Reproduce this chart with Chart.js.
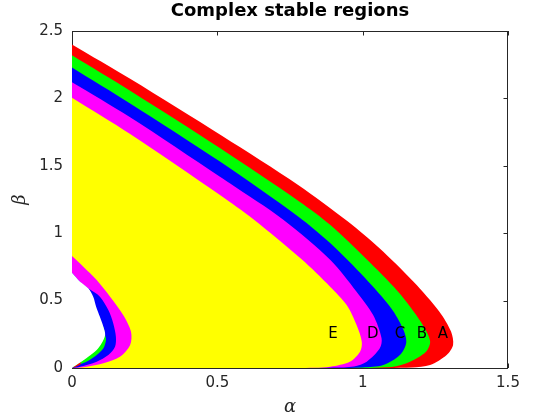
<!DOCTYPE html>
<html>
<head>
<meta charset="utf-8">
<script src="https://cdn.jsdelivr.net/npm/chart.js@4.4.1/dist/chart.umd.min.js"></script>
<style>
  html, body { margin: 0; padding: 0; background: #fff; }
  canvas { display: block; }
</style>
</head>
<body>
<canvas id="chart" width="560" height="420"></canvas>
<script>
// ─── data: region boundaries as [alpha, beta] points ───
const redOuter = [[0,2.40],[0.2,2.145],[0.517,1.721],[0.778,1.358],[0.947,1.09],[1.057,0.89],[1.175,0.64],
  [1.264,0.418],[1.304,0.27],[1.311,0.17],[1.289,0.096],[1.232,0.022],[1.17,0.004],[1.0,0],[0,0]];
const greenOuter = [[0,2.32],[0.2,2.057],[0.51,1.63],[0.783,1.234],[0.889,1.061],[1.01,0.814],[1.122,0.566],
  [1.2,0.343],[1.232,0.2],[1.218,0.121],[1.163,0.047],[1.10,0.008],[0.95,0],[0,0]];
const blueOuter = [[0,2.23],[0.2,1.963],[0.509,1.531],[0.779,1.122],[0.889,0.925],[1.009,0.665],[1.098,0.443],
  [1.138,0.294],[1.15,0.19],[1.128,0.096],[1.071,0.022],[1.0,0.004],[0.9,0],[0,0]];
const magentaOuter = [[0,2.12],[0.2,1.86],[0.509,1.419],[0.543,1.37],[0.727,1.1],[0.889,0.801],[0.979,0.566],
  [1.036,0.393],[1.065,0.22],[1.059,0.146],[1.014,0.047],[0.97,0.012],[0.9,0.003],[0.8,0],[0,0]];
const yellowOuter = [[0,2.005],[0.2,1.736],[0.509,1.283],[0.624,1.103],[0.79,0.806],[0.888,0.603],[0.945,0.467],
  [0.979,0.319],[0.997,0.195],[0.991,0.121],[0.956,0.047],[0.888,0.01],[0.836,0.002],[0.7,0],[0,0]];

// inner pocket near the origin
const innerMagenta = [[0,0.831],[0.039,0.752],[0.085,0.653],[0.131,0.529],[0.176,0.393],[0.203,0.269],
  [0.2,0.171],[0.165,0.084],[0.108,0.035],[0.039,0.005],[0,0]];
const innerBlue = [[0,0.707],[0.028,0.64],[0.056,0.591],[0.096,0.529],[0.125,0.43],[0.142,0.331],[0.151,0.232],
  [0.148,0.158],[0.125,0.096],[0.085,0.047],[0.028,0.01],[0,0]];
const innerGreen = [[0.108,0.306],[0.114,0.245],[0.117,0.208],[0.108,0.146],[0.085,0.096],[0.056,0.054],[0.022,0.022],[0,0]];
const innerRed = [[0.03,0.045],[0.03,0.03],[0.02,0.016],[0.008,0.005],[0,0]];
const innerWhite = [[0,0.707],[0.028,0.64],[0.056,0.591],[0.073,0.529],[0.083,0.455],[0.096,0.38],[0.108,0.306],
  [0.114,0.245],[0.102,0.183],[0.085,0.134],[0.056,0.084],[0.028,0.04],[0,0]];

const regionNames = ['A', 'B', 'C', 'D', 'E'];
const regionLabelX = [1.276, 1.204, 1.128, 1.035, 0.898];
const regionLabelY = 0.252;

const xTickValues = [0, 0.5, 1, 1.5];
const yTickValues = [0, 0.5, 1, 1.5, 2, 2.5];

const AXIS_COLOR = '#262626';

// ─── helpers ────────────────────────────────────────────────────────────────
function region(points, color, order) {
  return {
    data: points.map(([x, y]) => ({ x, y })),
    backgroundColor: color,
    borderColor: 'rgba(0,0,0,0)',
    borderWidth: 0,
    pointRadius: 0,
    tension: 0.3,
    fill: 'shape',
    order: order,
  };
}

// MATLAB-style box with inward ticks, drawn under the patches
const axesBox = {
  id: 'axesBox',
  beforeDatasetsDraw(chart) {
    const { ctx, chartArea: a, scales: { x, y } } = chart;
    const tl = 4.5;
    ctx.save();
    ctx.strokeStyle = AXIS_COLOR;
    ctx.lineWidth = 1;
    ctx.beginPath();
    ctx.moveTo(a.left + 0.5, a.top + 0.5);
    ctx.lineTo(a.right - 0.5, a.top + 0.5);
    ctx.lineTo(a.right - 0.5, a.bottom + 0.5);
    ctx.lineTo(a.left + 0.5, a.bottom + 0.5);
    ctx.closePath();
    x.ticks.forEach(t => {
      const px = Math.round(x.getPixelForValue(t.value)) + 0.5;
      ctx.moveTo(px, a.bottom); ctx.lineTo(px, a.bottom - tl);
      ctx.moveTo(px, a.top); ctx.lineTo(px, a.top + tl);
    });
    y.ticks.forEach(t => {
      const py = Math.round(y.getPixelForValue(t.value)) + 0.5;
      ctx.moveTo(a.left, py); ctx.lineTo(a.left + tl, py);
      ctx.moveTo(a.right, py); ctx.lineTo(a.right - tl, py);
    });
    ctx.stroke();
    ctx.restore();
  },
  afterDatasetsDraw(chart) {
    const { ctx, scales: { x, y } } = chart;
    ctx.save();
    ctx.font = '15px "DejaVu Sans"';
    ctx.fillStyle = '#000';
    ctx.textAlign = 'center';
    ctx.textBaseline = 'middle';
    regionNames.forEach((n, i) => {
      ctx.fillText(n, x.getPixelForValue(regionLabelX[i]), y.getPixelForValue(regionLabelY));
    });
    ctx.restore();
  },
};

const tickFont = { family: 'DejaVu Sans', size: 15 };
const tickText = v => String(v);

new Chart(document.getElementById('chart'), {
  type: 'line',
  data: {
    datasets: [
      region(redOuter, '#ff0000', 11),
      region(greenOuter, '#00ff00', 10),
      region(blueOuter, '#0000ff', 9),
      region(magentaOuter, '#ff00ff', 8),
      region(yellowOuter, '#ffff00', 7),
      region(innerMagenta, '#ff00ff', 6),
      region(innerBlue, '#0000ff', 5),
      region(innerGreen, '#00ff00', 4),
      region(innerRed, '#ff0000', 3),
      region(innerWhite, '#ffffff', 2),
    ],
  },
  options: {
    responsive: false,
    animation: false,
    events: [],
    layout: { padding: { top: 0, right: 52, bottom: 0, left: 0 } },
    plugins: {
      legend: { display: false },
      tooltip: { enabled: false },
      title: {
        display: true,
        text: 'Complex stable regions',
        fullSize: false,
        color: '#000',
        font: { family: 'DejaVu Sans', size: 18, weight: 'bold' },
        padding: { top: 1, bottom: 8.4 },
      },
    },
    scales: {
      x: {
        type: 'linear',
        min: 0, max: 1.5,
        afterBuildTicks: s => { s.ticks = xTickValues.map(v => ({ value: v })); },
        afterFit: s => { s.height = 52; },
        grid: { display: false, drawTicks: false },
        border: { display: false },
        ticks: { font: tickFont, color: AXIS_COLOR, padding: 6, maxRotation: 0, callback: tickText },
        title: {
          display: true, text: 'α', color: AXIS_COLOR,
          font: { family: 'DejaVu Serif', size: 18, style: 'italic' },
          padding: { top: 0, bottom: 2 },
        },
      },
      y: {
        type: 'linear',
        min: 0, max: 2.5,
        afterBuildTicks: s => { s.ticks = yTickValues.map(v => ({ value: v })); },
        afterFit: s => { s.width = 72; },
        grid: { display: false, drawTicks: false },
        border: { display: false },
        ticks: { font: tickFont, color: AXIS_COLOR, padding: 9, callback: tickText },
        title: {
          display: true, text: 'β', color: AXIS_COLOR,
          font: { family: 'DejaVu Serif', size: 18, style: 'italic' },
          padding: { top: 9.2, bottom: 0 },
        },
      },
    },
  },
  plugins: [axesBox],
});
</script>
</body>
</html>
